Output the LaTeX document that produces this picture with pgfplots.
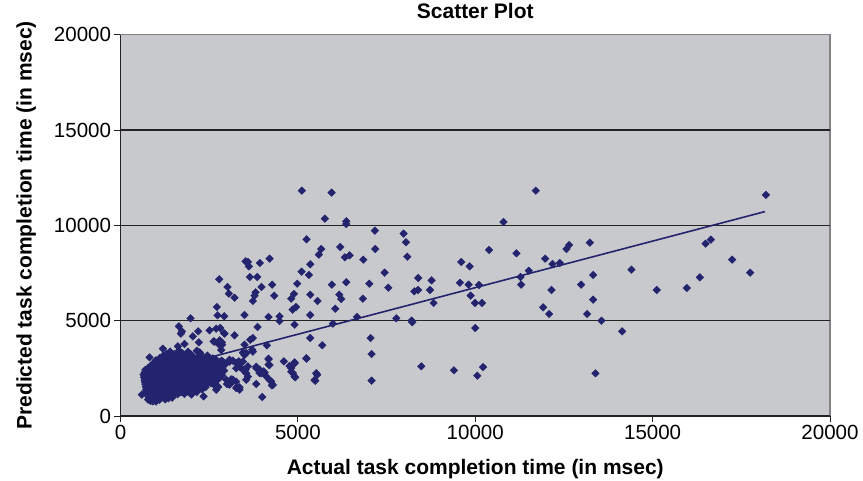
\documentclass[border=0pt]{standalone}
\usepackage{pgfplots}
\pgfplotsset{compat=1.18}
\usepackage{fontspec}
\setmainfont{Liberation Sans}
\definecolor{plotbg}{RGB}{200,201,204}
\definecolor{navy}{RGB}{35,35,110}
\definecolor{gridc}{RGB}{35,35,35}
\definecolor{borderc}{RGB}{130,130,130}
\begin{document}
\begin{tikzpicture}
\useasboundingbox (0pt,0pt) rectangle (863pt,480pt);
\begin{axis}[
  at={(120.5pt,64pt)}, anchor=south west,
  scale only axis, width=709.5pt, height=381.3pt,
  xmin=0, xmax=20000, ymin=0, ymax=20000,
  xtick={0,5000,10000,15000,20000},
  ytick={0,5000,10000,15000,20000},
  scaled ticks=false,
  xticklabel={\pgfmathprintnumber[assume math mode=true,1000 sep={}]{\tick}},
  yticklabel={\pgfmathprintnumber[assume math mode=true,1000 sep={}]{\tick}},
  axis background/.style={fill=plotbg, draw=borderc, line width=1.5pt},
  axis x line*=bottom, axis y line*=left,
  axis line style={gridc, line width=1.3pt, -},
  tick align=outside, major tick length=6pt,
  tick style={gridc, line width=1pt},
  extra y ticks={5000,10000,15000}, extra y tick labels={},
  extra y tick style={grid=major, major tick length=0pt},
  major grid style={gridc, line width=1.4pt},
  tick label style={font=\fontsize{20.5}{24}\selectfont},
  title={Scatter Plot},
  title style={at={(axis description cs:0.5,1)}, anchor=base, yshift=9.7pt, font=\fontsize{21}{25}\selectfont\bfseries},
  xlabel={Actual task completion time (in msec)},
  xlabel style={at={(axis description cs:0.5,0)}, anchor=base, yshift=-58pt, font=\fontsize{21}{25}\selectfont\bfseries},
  ylabel={Predicted task completion time (in msec)},
  ylabel style={at={(axis description cs:-0.1252,0.5)}, anchor=base, font=\fontsize{21}{25}\selectfont\bfseries},
  clip=false,
]
\addplot[only marks, mark=square*, mark size=2.7pt, mark options={rotate=45, fill=navy, draw=navy}] coordinates {
(5114,11821) (5950,11717) (5762,10352) (6364,10212) (6364,10072) (7172,9722) (7981,9565) (8047,9110) (8084,8358)
(5245,9268) (5659,8761) (5593,8463) (6195,8866) (6458,8428) (6326,8323) (6843,8201) (7182,8761)
(3525,8114) (3619,7851) (3591,8079) (3929,8026) (4202,8254) (5349,7956) (5104,7571) (5311,7397)
(2783,7169) (3647,7291) (3854,7291) (3018,6767) (3976,6767) (4277,6889) (4982,6942) (5960,6889)
(6364,7012) (7013,6942) (7445,7519) (7548,6732) (8394,7239) (8770,7117) (9607,8079) (9842,7851)
(9569,6994) (9814,6889) (10105,6872) (8282,6539) (8385,6609) (8723,6609) (9870,6312) (9992,5927)
(8827,5927) (3055,6417) (3215,6207) (3807,6487) (3779,6312) (3732,6032) (4334,6312) (4888,6400)
(4813,6155) (5349,6365) (5556,6032) (6167,6365) (6223,6137) (6834,6155) (6054,5630) (2717,5717)
(2736,5280) (2924,5228) (3497,5298) (4174,5193) (4484,5228) (4484,4983) (4851,5578) (4945,5717)
(5349,5298) (1974,5123) (6665,5193) (7774,5123) (8206,5000) (8225,4913) (10002,4615) (5988,4843)
(4907,4790) (3864,4668) (1645,4703) (1730,4441) (2190,4441) (2510,4493) (2698,4581) (2811,4615)
(2914,4353) (3215,4231) (1702,4318) (2040,4178) (3657,4003) (3732,4091) (2623,3916) (2858,3863)
(2209,3863) (1805,3776) (1617,3654) (1194,3531) (818,3076) (1401,3164) (4127,3706) (5349,4091)
(5687,3706) (7050,4091) (7078,3251) (7078,1852) (8479,2604) (9400,2394) (10058,2115) (5245,3006)
(5546,2167) (5490,1852) (4907,2814) (4606,2867) (4813,2517) (4860,2254) (4926,2027) (4174,3006)
(4174,2692) (4033,2342) (3920,2429) (3826,2517) (3826,1677) (4249,1817) (4268,1607) (3995,995)
(3281,1502) (3168,1905) (2999,1677) (3544,1905) (3525,2429) (3478,3303) (3713,3479) (3337,2867)
(2341,1030) (1457,960) (602,1118)
(11706,11821) (18192,11594) (10795,10177) (10390,8708) (11161,8533) (11969,8254) (12176,7974)
(12383,8026) (12571,8761) (12646,8970) (13229,9093) (16491,9041) (16641,9250) (17243,8201)
(17750,7519) (14404,7676) (13323,7397) (12985,6889) (11509,7624) (11274,7291) (11293,6889)
(12148,6609) (11913,5700) (12082,5350) (13154,5350) (13323,6102) (13558,5000) (14141,4441)
(15118,6609) (15964,6714) (16331,7274) (10193,5927) (10221,2569) (13389,2237)
(2933,4319) (2792,3969) (2867,3742) (1899,3304) (2040,3129) (2228,3339) (2510,3042) (2698,2954)
(3074,2954) (3262,2780) (3544,3304) (3497,3741) (3450,2430) (3591,2605) (3920,2255) (4108,2080)
(3356,1380) (3262,1468) (2980,1905) (3074,1643) (3168,1818) (2651,1730) (2745,1555) (2698,1380)
(818,856) (912,768)
(2651,3899) (2792,3724) (2839,3462) (3450,3322) (3497,3200) (3732,3375) (2886,2850) (2980,2763)
(3074,2850) (3168,2903) (3356,2763) (3450,2850) (3262,2501) (3356,2588) (3544,2239) (3591,2064)
(3826,2588) (3920,2413) (3967,2239) (4061,2274) (4174,2973) (4202,2676) (4766,2623) (4907,2763)
(4813,2326) (4907,2064) (5236,3025) (5518,2239) (5471,1889) (4202,1889) (4296,1627) (3262,1802)
(3356,1505) (3027,1679) (3121,1924) (2651,1627) (2745,1505) (2557,1714)
(1400,3380) (1650,3430) (1900,3370) (2150,3420)
(1200,3170) (1400,3120) (1600,3180) (1800,3130) (2000,3160) (2200,3110) (2450,3170)
(1000,2920) (1180,2870) (1360,2930) (1540,2880) (1720,2910) (1900,2860) (2080,2930) (2260,2880) (2440,2920) (2620,2870) (2850,2900)
(850,2630) (1020,2680) (1190,2640) (1360,2670) (1530,2620) (1700,2680) (1870,2640) (2040,2670) (2210,2630) (2380,2680) (2550,2640) (2720,2660) (2900,2620)
(700,2420) (870,2380) (1040,2430) (1210,2370) (1380,2410) (1550,2380) (1720,2430) (1890,2390) (2060,2420) (2230,2370) (2400,2410) (2570,2390) (2740,2420) (2920,2380)
(650,2170) (820,2130) (990,2160) (1160,2120) (1330,2170) (1500,2130) (1670,2160) (1840,2120) (2010,2170) (2180,2140) (2350,2160) (2520,2120) (2690,2170) (2860,2140)
(680,1880) (850,1920) (1020,1870) (1190,1910) (1360,1880) (1530,1930) (1700,1870) (1870,1910) (2040,1890) (2210,1920) (2380,1870) (2550,1910) (2720,1880)
(700,1670) (870,1630) (1040,1660) (1210,1620) (1380,1670) (1550,1640) (1720,1660) (1890,1620) (2060,1670) (2230,1630) (2420,1660) (2650,1640)
(720,1380) (890,1420) (1060,1370) (1230,1410) (1400,1390) (1570,1420) (1740,1380) (1910,1410) (2080,1370) (2300,1400)
(760,1170) (930,1130) (1100,1160) (1270,1120) (1440,1170) (1610,1140) (1800,1160) (2000,1130)
(800,950) (980,920) (1160,960) (1350,930)
(850,790) (1000,760)
(1300,3270) (1520,3250) (1750,3290) (1980,3240) (2250,3280)
(1100,3030) (1300,3010) (1500,3050) (1700,3020) (1900,3040) (2100,3000) (2330,3050) (2600,3020)
(930,2780) (1100,2760) (1270,2800) (1450,2770) (1630,2790) (1810,2750) (1990,2800) (2170,2770) (2350,2790) (2530,2760) (2720,2800)
(780,2520) (950,2540) (1120,2500) (1290,2530) (1460,2510) (1630,2550) (1800,2500) (1970,2530) (2140,2510) (2310,2540) (2480,2500) (2650,2530) (2820,2510)
(680,2280) (790,2260) (960,2300) (1125,2270) (1295,2290) (1465,2250) (1635,2300) (1805,2260) (1975,2290) (2145,2270) (2315,2300) (2485,2260) (2655,2290) (2800,2270)
(660,2030) (760,2010) (935,2050) (1105,2020) (1275,2040) (1445,2000) (1615,2050) (1785,2020) (1955,2040) (2125,2010) (2295,2050) (2465,2020) (2635,2040) (2800,2010)
(690,1780) (780,1760) (955,1800) (1125,1770) (1295,1790) (1465,1750) (1635,1800) (1805,1770) (1975,1790) (2145,1760) (2315,1800) (2485,1770) (2650,1790)
(710,1520) (800,1540) (975,1500) (1145,1530) (1315,1510) (1485,1540) (1655,1500) (1825,1530) (1995,1510) (2165,1540) (2400,1520)
(740,1270) (850,1290) (1010,1250) (1180,1280) (1350,1260) (1520,1290) (1700,1250) (1900,1280) (2150,1260)
(780,1050) (880,1070) (1060,1030) (1240,1060) (1450,1040)
(780,860) (930,880) (1100,850) (1260,870)
};
\addplot[navy, line width=1.6pt, mark=none] coordinates {(583,2130) (18164,10720)};
\end{axis}
\end{tikzpicture}
\end{document}
